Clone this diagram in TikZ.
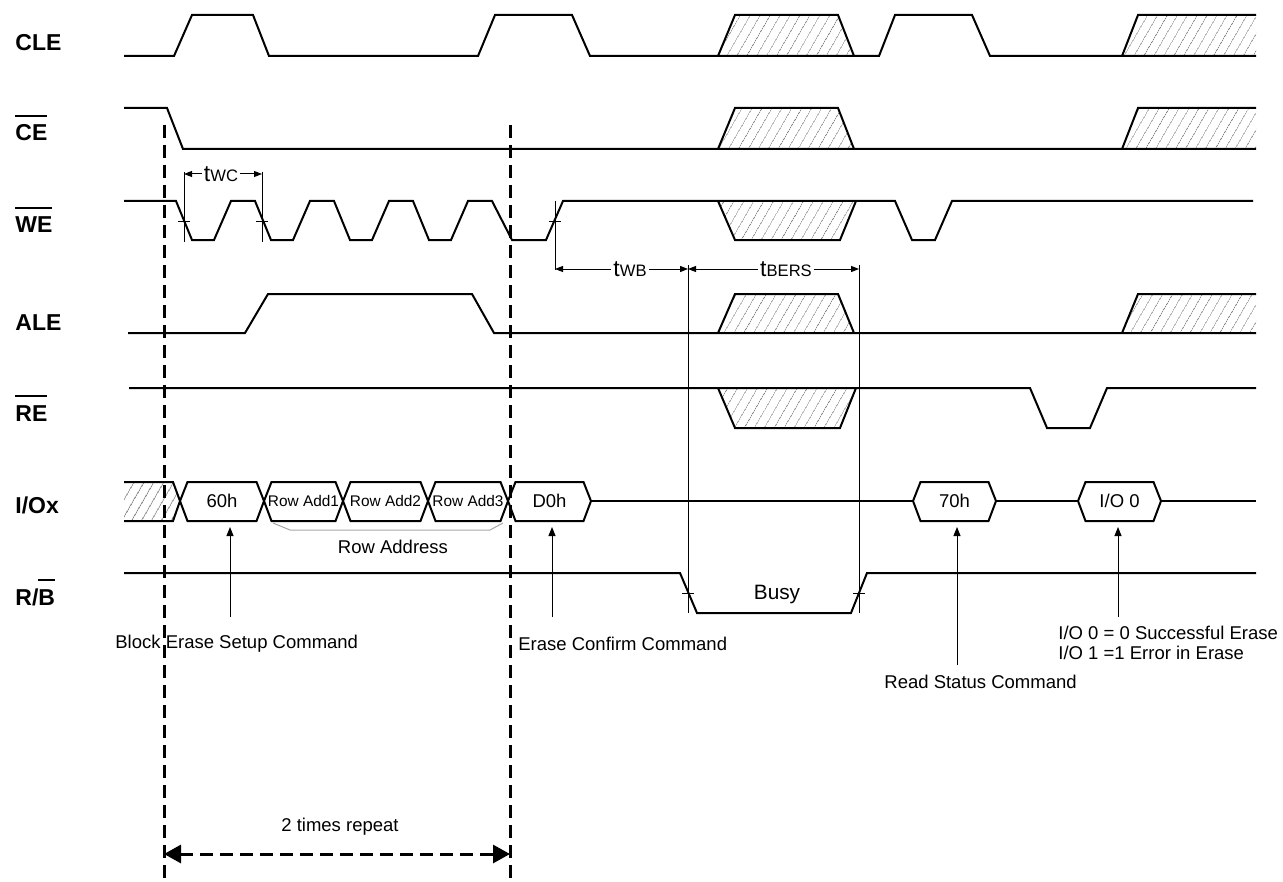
\documentclass[tikz,border=0pt]{standalone}
\usepackage{fontspec}
\setmainfont{Liberation Sans}
\usetikzlibrary{arrows.meta,patterns.meta}

% bar over an active-low signal name
\newcommand{\barred}[1]{\setbox0\hbox{#1}\rlap{\smash{\raisebox{\dimexpr\ht0+4pt\relax}{\rule{\wd0}{1.2pt}}}}\box0}
% timing parameter: big t, small letters
\newcommand{\tpar}[1]{{\fontsize{11.5}{13}\selectfont t}{\fontsize{8.3}{10}\selectfont #1}}
% one value on the I/O bus: name, style, left point, right point, text
\newcommand{\busbox}[5]{%
  \draw[sig] (#3,501) -- (#3+7.5,482) -- (#4-7.5,482) -- (#4,501) -- (#4-7.5,521) -- (#3+7.5,521) -- cycle;
  \node[#2] (#1) at ({(#3+#4)/2},501) {#5};}

\tikzset{
  sig/.style={line width=1pt, line join=miter},
  hair/.style={line width=0.5pt},
  hatch/.style={pattern={Lines[angle=60,distance=4pt,line width=0.35pt]}, pattern color=gray},
  lbl/.style={font=\fontsize{11.5}{13}\selectfont\bfseries, inner sep=0pt, anchor=base west},
  txt/.style={font=\fontsize{9.25}{11}\selectfont, inner sep=0pt},
  addtxt/.style={font=\fontsize{7.7}{9}\selectfont, inner sep=0pt},
  guide/.style={dash pattern=on 6.5pt off 3.5pt, line width=1.5pt},
  pointer/.style={hair, -{Triangle[length=4.5pt,width=3.5pt]}},
  dim/.style={hair, {Triangle[length=4pt,width=3pt]}-{Triangle[length=4pt,width=3pt]}}
}

\begin{document}
\begin{tikzpicture}[x=0.5pt,y=-0.5pt]
    \useasboundingbox (0,0) rectangle (1283,882);

    % signal names
    \node[lbl] (nCLE) at (15,51) {CLE};
    \node[lbl] (nCE) at (15,141) {\barred{CE}};
    \node[lbl] (nWE) at (15,233) {\barred{WE}};
    \node[lbl] (nALE) at (15,330) {ALE};
    \node[lbl] (nRE) at (15,421) {\barred{RE}};
    \node[lbl] (nIO) at (15,513) {I/Ox};
    \node[lbl] (nRB) at (15,605) {R/\barred{B}};

    % hatched don't-care parts
    \foreach \lo/\hi in {56/15, 149/108, 333/294} {
    \draw[sig,hatch] (718,\lo) -- (735,\hi) -- (838,\hi) -- (854,\lo);
    \fill[hatch] (1122,\lo) -- (1138,\hi) -- (1256,\hi) -- (1256,\lo) -- cycle;
    \draw[sig] (1122,\lo) -- (1138,\hi) -- (1256,\hi);
    }
    \foreach \hi/\lo in {201/240, 388/428}
    \draw[sig,hatch] (718,\hi) -- (735,\lo) -- (840,\lo) -- (856,\hi);

    % CLE
    \draw[sig] (124,56) -- (174,56) -- (192,15) -- (253,15) -- (269,56) -- (478,56) -- (495,15) -- (572,15)
      -- (590,56) -- (879,56) -- (895,15) -- (972,15) -- (990,56) -- (1256,56);
    % CE
    \draw[sig] (124,108) -- (167,108) -- (183,149) -- (1256,149);
    % WE
    \draw[sig] (124,201) foreach \s in {176,255,334,413} { -- (\s,201) -- (\s+16,240) -- (\s+38,240) -- (\s+55,201) }
      -- (492,201) -- (512,240) -- (546,240) -- (563,201) -- (895,201) -- (912,240) -- (935,240) -- (952,201) -- (1253,201);
    % ALE
    \draw[sig] (128,333) -- (245,333) -- (268,294) -- (472,294) -- (494,333) -- (1256,333);
    % RE
    \draw[sig] (129,388) -- (1030,388) -- (1047,428) -- (1090,428) -- (1107,388) -- (1256,388);
    % R/B
    \draw[sig] (124,573) -- (680,573) -- (697,613) -- (851,613) -- (867,573) -- (1256,573);
    \node[txt, font=\fontsize{10.4}{12}\selectfont] (busy) at (777,594) {Busy};

    % I/O bus
    \fill[hatch] (124,482) -- (173,482) -- (180,501) -- (173,521) -- (124,521) -- cycle;
    \draw[sig] (124,482) -- (173,482) -- (180,501) -- (173,521) -- (124,521);
    \busbox{v60}{txt}{180}{264}{60h}
    \busbox{ra1}{addtxt}{264}{343}{Row Add1}
    \busbox{ra2}{addtxt}{343}{428}{Row Add2}
    \busbox{ra3}{addtxt}{428}{508}{Row Add3}
    \busbox{vD0}{txt}{508}{591}{D0h}
    \busbox{v70}{txt}{913}{996}{70h}
    \busbox{vIO}{txt}{1078}{1161}{I/O 0}
    \draw[sig] (591,501) -- (913,501);
    \draw[sig] (996,501) -- (1078,501);
    \draw[sig] (1161,501) -- (1256,501);
    \draw[hair,gray!70] (273,523) -- (290,530) -- (490,530) -- (503,523);
    \node[txt] (radd) at (393,547) {Row Address};

    % timing marks
    \foreach \px/\py in {184/221, 262/221, 555/221, 688/593, 859/593}
    \draw[hair] (\px-6,\py) -- (\px+6,\py);
    \draw[hair] (184,172) -- (184,242);
    \draw[hair] (262,172) -- (262,242);
    \draw[hair] (555,201) -- (555,270);
    \draw[hair] (688,265) -- (688,613);
    \draw[hair] (859,265) -- (859,613);
    \draw[dim] (184,174) -- (262,174);
    \node[fill=white, inner sep=1pt] (twc) at (221,174) {\tpar{WC}};
    \draw[dim] (555,269) -- (688,269);
    \node[fill=white, inner sep=1pt] (twb) at (630,269) {\tpar{WB}};
    \draw[dim] (688,269) -- (859,269);
    \node[fill=white, inner sep=1pt] (tbers) at (786,269) {\tpar{BERS}};

    % commands
    \node[txt, anchor=west] (blk) at (115,644) {Block Erase Setup Command};
    \node[txt, anchor=west] (conf) at (518,644) {Erase Confirm Command};
    \node[txt, anchor=west] (rsc) at (884,682) {Read Status Command};
    \node[txt, anchor=west, align=left, font=\fontsize{9.25}{10}\selectfont] (ioinfo) at (1058,643)
      {I/O 0 = 0 Successful Erase\\I/O 1 =1 Error in Erase};
    \draw[pointer] (230,617) -- (230,527);
    \draw[pointer] (552,617) -- (552,527);
    \draw[pointer] (957,665) -- (957,527);
    \draw[pointer] (1118,617) -- (1118,527);

    % repeat section
    \draw[guide] (164,125) -- (164,882);
    \draw[guide] (510,125) -- (510,882);
    \draw[guide, {Triangle[length=8.5pt,width=9pt]}-{Triangle[length=8.5pt,width=9pt]}] (164,854) -- (510,854);
    \node[txt] (rep) at (340,827) {2 times repeat};
\end{tikzpicture}
\end{document}
